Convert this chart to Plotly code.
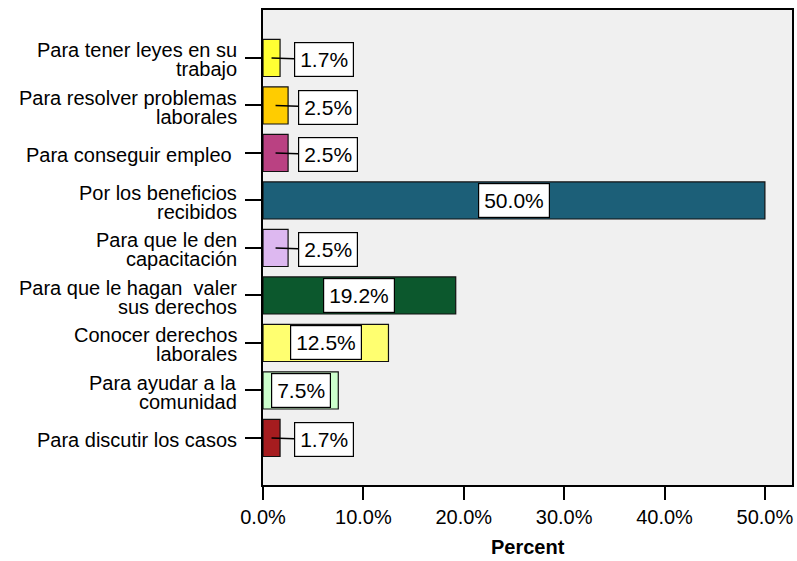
import plotly.graph_objects as go

# categorías (de arriba hacia abajo) y porcentajes
categorias = [
    "Para tener leyes en su<br>trabajo",
    "Para resolver problemas<br>laborales",
    "Para conseguir empleo\u00a0",
    "Por los beneficios<br>recibidos",
    "Para que le den<br>capacitación",
    "Para que le hagan\u00a0 valer<br>sus derechos",
    "Conocer derechos<br>laborales",
    "Para ayudar a la<br>comunidad",
    "Para discutir los casos",
]
porcentajes = [1.7, 2.5, 2.5, 50.0, 2.5, 19.2, 12.5, 7.5, 1.7]
colores = ["#FFFF33", "#FFCC00", "#BA4182", "#1C5F78", "#DDB8F0",
           "#0C582D", "#FFFF70", "#CCFFCC", "#A61C1F"]
ticks_x = [0, 10, 20, 30, 40, 50]
ticks_x_txt = ["0.0%", "10.0%", "20.0%", "30.0%", "40.0%", "50.0%"]

FUENTE = "Liberation Sans, Arial, sans-serif"
pos = list(range(len(categorias)))

fig = go.Figure()
fig.add_trace(go.Bar(
    x=porcentajes, y=pos, orientation="h", width=0.78,
    marker=dict(color=colores, line=dict(color="#111111", width=1.2)),
    hoverinfo="skip",
))

anots = []
# etiquetas de categoría (una anotación por línea para un interlineado compacto)
for i, cat in enumerate(categorias):
    lineas = cat.split("<br>")
    n = len(lineas)
    for k, txt in enumerate(lineas):
        anots.append(dict(
            x=0, xref="paper", y=i, yref="y", text=txt, showarrow=False,
            xanchor="right", yanchor="middle", xshift=-24,
            yshift=((n - 1) / 2 - k) * 19 - 2,
            font=dict(family=FUENTE, size=20, color="black"),
        ))

# etiquetas de valor en cajas
for i, v in enumerate(porcentajes):
    caja = dict(
        text=f"{v:.1f}%", font=dict(family=FUENTE, size=21, color="black"),
        bgcolor="white", bordercolor="black", borderwidth=1.2, borderpad=5,
        xref="x", yref="y", x=v / 2, y=i,
    )
    if v < 5:
        caja.update(showarrow=True, arrowhead=0, arrowwidth=1.5,
                    arrowcolor="black", ax=52, ay=2, standoff=0)
    else:
        caja.update(showarrow=False)
    anots.append(caja)

# título del eje x
anots.append(dict(
    x=0.5, xref="paper", y=0, yref="paper", yanchor="middle", yshift=-62,
    text="<b>Percent</b>", showarrow=False,
    font=dict(family=FUENTE, size=20, color="black"),
))

fig.update_layout(
    width=797, height=561,
    margin=dict(l=263, r=5, t=10, b=76),
    paper_bgcolor="white", plot_bgcolor="#F0F0F0",
    showlegend=False, annotations=anots,
    font=dict(family=FUENTE, size=20, color="black"),
)
fig.update_xaxes(
    range=[0, 52.7], tickvals=ticks_x, ticktext=ticks_x_txt,
    ticks="outside", ticklen=13, tickwidth=2, tickcolor="black",
    showline=True, linewidth=2, linecolor="black", mirror=True,
    showgrid=False, zeroline=False, automargin=False,
    tickfont=dict(family=FUENTE, size=20),
)
fig.update_yaxes(
    range=[8.99, -1.01], tickvals=pos, ticktext=[""] * len(pos),
    ticks="outside", ticklen=16, tickwidth=2, tickcolor="black",
    showline=True, linewidth=2, linecolor="black", mirror=True,
    showgrid=False, zeroline=False, automargin=False,
)

# quitar el margen por defecto del <body> para que la figura quepa en la ventana
fig.write_html("out.html", config={"displayModeBar": False},
               post_script="document.body.style.margin='0';")
